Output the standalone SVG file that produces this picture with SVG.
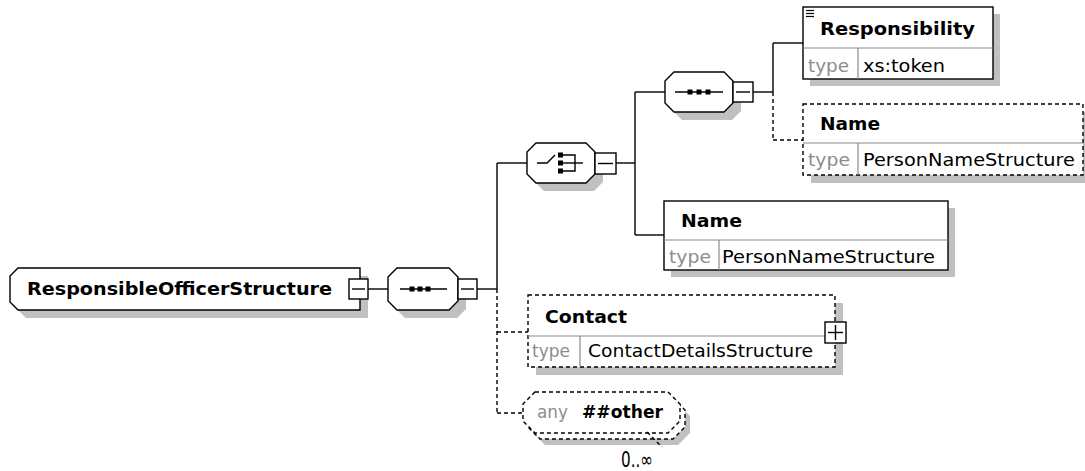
<svg xmlns="http://www.w3.org/2000/svg" width="1085" height="471" viewBox="0 0 1085 471">
<style>
.bg{fill:#ffffff}
.sh{fill:#c0c0c0;stroke:none}
.box{fill:#ffffff;stroke:#000000;stroke-width:1.4}
.dbox{fill:#ffffff;stroke:#000000;stroke-width:1.4;stroke-dasharray:4 3}
.div{stroke:#8a8a8a;stroke-width:1.2;fill:none}
.ln{stroke:#000000;stroke-width:1.4;fill:none}
.dln{stroke:#000000;stroke-width:1.4;fill:none;stroke-dasharray:4 3}
.sq{fill:#000000}
.nm{font-family:"DejaVu Sans","Liberation Sans",sans-serif;font-weight:bold;font-size:18px;fill:#000000}
.tx{font-family:"DejaVu Sans","Liberation Sans",sans-serif;font-size:18px;fill:#000000}
.gr{font-family:"DejaVu Sans","Liberation Sans",sans-serif;font-size:18px;fill:#8c8c8c}
.occ{font-family:"DejaVu Sans","Liberation Sans",sans-serif;font-size:21px;fill:#000000}
</style>
<rect class="bg" x="0" y="0" width="1085" height="471"/>

<g id="connectors">
  <line class="ln" x1="368" y1="289" x2="388" y2="289"/>
  <line class="ln" x1="477" y1="289" x2="497" y2="289"/>
  <line class="ln" x1="497" y1="163" x2="497" y2="289"/>
  <line class="dln" x1="497" y1="289" x2="497" y2="413"/>
  <line class="ln" x1="497" y1="163" x2="527" y2="163"/>
  <line class="dln" x1="497" y1="332" x2="528" y2="332"/>
  <line class="dln" x1="497" y1="413" x2="523" y2="413"/>
  <line class="ln" x1="616" y1="163" x2="635" y2="163"/>
  <line class="ln" x1="635" y1="92" x2="635" y2="235"/>
  <line class="ln" x1="635" y1="92" x2="665" y2="92"/>
  <line class="ln" x1="635" y1="235" x2="664" y2="235"/>
  <line class="ln" x1="753" y1="92" x2="773" y2="92"/>
  <line class="ln" x1="773" y1="43" x2="773" y2="92"/>
  <line class="dln" x1="773" y1="92" x2="773" y2="140"/>
  <line class="ln" x1="773" y1="43" x2="803" y2="43"/>
  <line class="dln" x1="773" y1="140" x2="803" y2="140"/>
</g>

<g id="root">
  <polygon class="sh" points="26,276 368,276 368,318 26,318 18,310 18,284"/>
  <polygon class="box" points="18,268 360,268 360,310 18,310 10,302 10,276"/>
  <text class="nm" x="27" y="295" textLength="305" lengthAdjust="spacingAndGlyphs">ResponsibleOfficerStructure</text>
  <rect class="box" x="349" y="279" width="19" height="20"/>
  <line class="ln" x1="352" y1="289" x2="365" y2="289"/>
</g>

<g id="seq1">
  <polygon class="sh" points="405,276 457,276 466,285 466,309 457,318 405,318 396,309 396,285"/>
  <polygon class="box" points="397,268 449,268 458,277 458,301 449,310 397,310 388,301 388,277"/>
  <line class="ln" x1="400" y1="289" x2="447" y2="289"/>
  <rect class="sq" x="409.5" y="286.5" width="5" height="5"/>
  <rect class="sq" x="417.5" y="286.5" width="5" height="5"/>
  <rect class="sq" x="425.5" y="286.5" width="5" height="5"/>
  <rect class="box" x="458" y="279" width="19" height="20"/>
  <line class="ln" x1="461" y1="289" x2="474" y2="289"/>
</g>

<g id="choice">
  <polygon class="sh" points="544,151 594,151 603,160 603,182 594,191 544,191 535,182 535,160"/>
  <polygon class="box" points="536,143 586,143 595,152 595,174 586,183 536,183 527,174 527,152"/>
  <polyline class="ln" points="537,163 547,163 555,155"/>
  <rect class="sq" x="558" y="152.5" width="5" height="5"/>
  <rect class="sq" x="558" y="160.5" width="5" height="5"/>
  <rect class="sq" x="558" y="168.5" width="5" height="5"/>
  <polyline class="ln" points="563,155 575,155 575,171 563,171"/>
  <line class="ln" x1="563" y1="163" x2="583" y2="163"/>
  <rect class="box" x="595" y="153" width="21" height="21"/>
  <line class="ln" x1="598" y1="163.5" x2="613" y2="163.5"/>
</g>

<g id="seq2">
  <polygon class="sh" points="682,80 732,80 741,89 741,111 732,120 682,120 673,111 673,89"/>
  <polygon class="box" points="674,72 724,72 733,81 733,103 724,112 674,112 665,103 665,81"/>
  <line class="ln" x1="675" y1="92" x2="723" y2="92"/>
  <rect class="sq" x="687.5" y="89.5" width="5" height="5"/>
  <rect class="sq" x="696.5" y="89.5" width="5" height="5"/>
  <rect class="sq" x="705.5" y="89.5" width="5" height="5"/>
  <rect class="box" x="733" y="82" width="20" height="20"/>
  <line class="ln" x1="736" y1="92" x2="750" y2="92"/>
</g>

<g id="responsibility">
  <rect class="sh" x="810" y="14" width="190" height="72"/>
  <rect class="box" x="803" y="7" width="190" height="72"/>
  <line class="div" x1="803" y1="48" x2="993" y2="48"/>
  <line class="div" x1="858" y1="48" x2="858" y2="79"/>
  <line x1="806" y1="10.5" x2="814" y2="10.5" stroke="#000" stroke-width="1.2"/>
  <line x1="806" y1="13.5" x2="814" y2="13.5" stroke="#000" stroke-width="1.2"/>
  <line x1="806" y1="16.5" x2="814" y2="16.5" stroke="#000" stroke-width="1.2"/>
  <text class="nm" x="820" y="35" textLength="155" lengthAdjust="spacingAndGlyphs">Responsibility</text>
  <text class="gr" x="808" y="72" textLength="41" lengthAdjust="spacingAndGlyphs">type</text>
  <text class="tx" x="863" y="72" textLength="82" lengthAdjust="spacingAndGlyphs">xs:token</text>
</g>

<g id="name-optional">
  <rect class="sh" x="811" y="112" width="280" height="71"/>
  <rect class="dbox" x="803" y="104" width="280" height="71"/>
  <line class="div" x1="803" y1="143" x2="1083" y2="143"/>
  <line class="div" x1="858" y1="143" x2="858" y2="175"/>
  <text class="nm" x="820" y="130" textLength="60" lengthAdjust="spacingAndGlyphs">Name</text>
  <text class="gr" x="808" y="166" textLength="42" lengthAdjust="spacingAndGlyphs">type</text>
  <text class="tx" x="863" y="166" textLength="212" lengthAdjust="spacingAndGlyphs">PersonNameStructure</text>
</g>

<g id="name">
  <rect class="sh" x="671" y="208" width="284" height="69"/>
  <rect class="box" x="664" y="201" width="284" height="69"/>
  <line class="div" x1="664" y1="240" x2="948" y2="240"/>
  <line class="div" x1="719" y1="240" x2="719" y2="270"/>
  <text class="nm" x="681" y="227" textLength="61" lengthAdjust="spacingAndGlyphs">Name</text>
  <text class="gr" x="669" y="263" textLength="42" lengthAdjust="spacingAndGlyphs">type</text>
  <text class="tx" x="722" y="263" textLength="213" lengthAdjust="spacingAndGlyphs">PersonNameStructure</text>
</g>

<g id="contact">
  <rect class="sh" x="536" y="303" width="307" height="72"/>
  <rect class="dbox" x="528" y="295" width="307" height="72"/>
  <line class="div" x1="528" y1="336" x2="835" y2="336"/>
  <line class="div" x1="580" y1="336" x2="580" y2="367"/>
  <text class="nm" x="545" y="323" textLength="82" lengthAdjust="spacingAndGlyphs">Contact</text>
  <text class="gr" x="532" y="357" textLength="38" lengthAdjust="spacingAndGlyphs">type</text>
  <text class="tx" x="588" y="357" textLength="225" lengthAdjust="spacingAndGlyphs">ContactDetailsStructure</text>
  <rect class="box" x="825" y="322" width="21" height="21"/>
  <line class="ln" x1="828" y1="332.5" x2="843" y2="332.5"/>
  <line class="ln" x1="835.5" y1="325" x2="835.5" y2="340"/>
</g>

<g id="any">
  <polygon class="sh" points="545,404 678,404 690,416 690,433 678,445 545,445 533,433 533,416"/>
  <polygon class="dbox" points="540,398 673,398 685,410 685,427 673,439 540,439 528,427 528,410"/>
  <polygon class="dbox" points="535,392 668,392 680,404 680,421 668,433 535,433 523,421 523,404"/>
  <text class="gr" x="537" y="418" textLength="31" lengthAdjust="spacingAndGlyphs">any</text>
  <text class="nm" x="582" y="418" textLength="81" lengthAdjust="spacingAndGlyphs">##other</text>
  <line class="dln" x1="647" y1="432" x2="662" y2="447" stroke-dasharray="3 3"/>
  <text class="occ" x="621" y="467" textLength="32" lengthAdjust="spacingAndGlyphs">0..∞</text>
</g>
</svg>
